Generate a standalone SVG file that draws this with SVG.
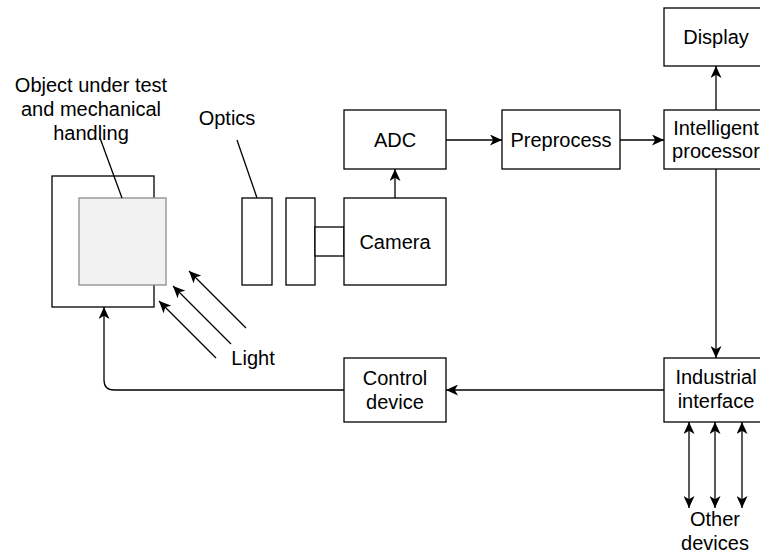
<svg xmlns="http://www.w3.org/2000/svg" width="760" height="556" viewBox="0 0 760 556">
<style>
  .box { fill: #ffffff; stroke: #000000; stroke-width: 1.3; }
  .obj { fill: #f2f2f2; stroke: #8c8c8c; stroke-width: 1.3; }
  .line { fill: none; stroke: #000000; stroke-width: 1.3; }
  .arr { marker-end: url(#ah); }
  .dbl { marker-start: url(#ah); marker-end: url(#ah); }
  text { font-family: "Liberation Sans", Arial, sans-serif; font-size: 20px; fill: #000000; text-anchor: middle; }
</style>
<defs>
  <marker id="ah" viewBox="0 0 12 11" refX="12" refY="5.5" markerWidth="12" markerHeight="11" markerUnits="userSpaceOnUse" orient="auto-start-reverse">
    <path d="M12,5.5 L0,0 L3.2,5.5 L0,11 Z" fill="#000000"/>
  </marker>
</defs>
<rect width="760" height="556" fill="#ffffff"/>

<g id="object">
  <rect class="box" x="52" y="176" width="102" height="131"/>
  <rect class="obj" x="79" y="198" width="87" height="87"/>
</g>
<g id="object-label">
  <text x="91" y="92">Object under test</text>
  <text x="91" y="116">and mechanical</text>
  <text x="91" y="140">handling</text>
</g>
<g id="optics">
  <rect class="box" x="242" y="198" width="30" height="87"/>
  <rect class="box" x="286" y="198" width="29" height="87"/>
  <rect class="box" x="315" y="227" width="29" height="29"/>
</g>
<g id="optics-label">
  <text x="227" y="125">Optics</text>
</g>
<g id="camera">
  <rect class="box" x="344" y="198" width="102" height="87"/>
  <text x="395" y="248.5">Camera</text>
</g>
<g id="adc">
  <rect class="box" x="344" y="110" width="102" height="59"/>
  <text x="395" y="146.5">ADC</text>
</g>
<g id="preprocess">
  <rect class="box" x="502" y="110" width="118" height="59"/>
  <text x="561" y="146.5">Preprocess</text>
</g>
<g id="intelligent">
  <rect class="box" x="664" y="110" width="104" height="59"/>
  <text x="716" y="134.5">Intelligent</text>
  <text x="716" y="158">processor</text>
</g>
<g id="display">
  <rect class="box" x="664" y="8" width="104" height="58"/>
  <text x="716" y="44">Display</text>
</g>
<g id="industrial">
  <rect class="box" x="664" y="358" width="104" height="64"/>
  <text x="716" y="384">Industrial</text>
  <text x="716" y="408">interface</text>
</g>
<g id="control">
  <rect class="box" x="344" y="358" width="102" height="64"/>
  <text x="395" y="385">Control</text>
  <text x="395" y="409">device</text>
</g>
<g id="light-label">
  <text x="253" y="365">Light</text>
</g>
<g id="other-devices">
  <text x="715" y="526">Other</text>
  <text x="715" y="550">devices</text>
</g>

<g id="connectors">
  <path class="line" d="M100,138 L122,198"/>
  <path class="line" d="M237,140 L257,198"/>
  <path class="line arr" d="M246,328 L189,271"/>
  <path class="line arr" d="M231,344 L173,286"/>
  <path class="line arr" d="M216,358 L159,301"/>
  <path class="line arr" d="M395,198 V169"/>
  <path class="line arr" d="M446,140 H502"/>
  <path class="line arr" d="M620,140 H664"/>
  <path class="line arr" d="M716,110 V66"/>
  <path class="line arr" d="M716,169 V358"/>
  <path class="line arr" d="M664,390 H446"/>
  <path class="line arr" d="M344,390 H114 Q104,390 104,380 V307"/>
  <path class="line dbl" d="M689,422 V508"/>
  <path class="line dbl" d="M715,422 V508"/>
  <path class="line dbl" d="M742,422 V508"/>
</g>
</svg>
